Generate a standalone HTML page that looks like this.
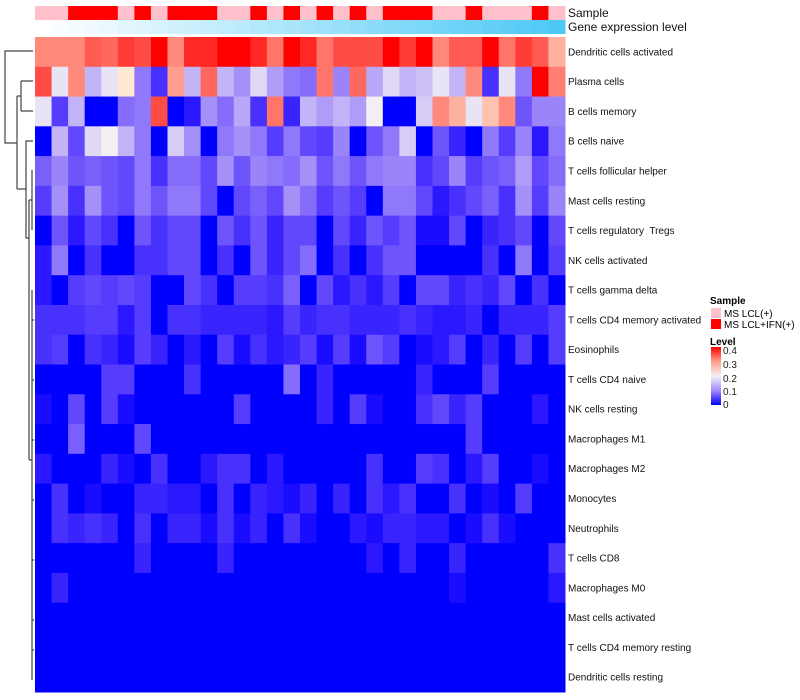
<!DOCTYPE html>
<html><head><meta charset="utf-8"><style>
body{margin:0;background:#fff;font-family:"Liberation Sans",sans-serif}
svg{display:block}
text{white-space:pre}
</style></head><body>
<svg id="chart" width="800" height="700" xmlns="http://www.w3.org/2000/svg">
<g id="dendro" stroke="#444" stroke-width="1.2" fill="none">
<path d="M33,51 H5 V143 H17"/>
<path d="M17,96 V189"/>
<path d="M17,96 H21 M21,81 V111 M21,81 H33 M21,111 H33"/>
<path d="M17,189 H26 V141 H33 M26,189 V238 H29"/>
<path d="M29,200 V460 M29,200 H32 M32,170 V230 M29,460 H32 M32,290 V680 M32,320 H34 M32,380 H34 M32,440 H34 M32,500 H34 M32,560 H34 M32,620 H34 M32,650 H34"/>
</g>
<g id="annot"></g>
<g id="cells"></g>
<g id="labels"></g>
<g id="legend">
<text x="710" y="304" font-size="10" font-weight="bold">Sample</text>
<rect x="711" y="308" width="10" height="10" fill="#ffc0cb"/>
<text x="724" y="317" font-size="10">MS LCL(+)</text>
<rect x="711" y="319" width="10" height="10" fill="#ff0000"/>
<text x="724" y="328" font-size="10">MS LCL+IFN(+)</text>
<text x="710" y="345" font-size="10" font-weight="bold">Level</text>
<defs><linearGradient id="lg" x1="0" y1="1" x2="0" y2="0">
<stop offset="0" stop-color="#0000ff"/><stop offset="0.25" stop-color="#a48aff"/><stop offset="0.5" stop-color="#f2f0f4"/><stop offset="0.75" stop-color="#ffa08a"/><stop offset="1" stop-color="#ff0000"/></linearGradient></defs>
<rect x="711" y="347" width="10" height="58" fill="url(#lg)"/>
<g font-size="10" fill="#222">
<text x="723" y="354">0.4</text><text x="723" y="368">0.3</text><text x="723" y="382">0.2</text><text x="723" y="395">0.1</text><text x="723" y="408">0</text>
</g>
</g>
</svg>
<script>
const rowNames=["Dendritic cells activated","Plasma cells","B cells memory","B cells naive","T cells follicular helper","Mast cells resting","T cells regulatory  Tregs","NK cells activated","T cells gamma delta","T cells CD4 memory activated","Eosinophils","T cells CD4 naive","NK cells resting","Macrophages M1","Macrophages M2","Monocytes","Neutrophils","T cells CD8","Macrophages M0","Mast cells activated","T cells CD4 memory resting","Dendritic cells resting"];
const sampleGroup="PPRRRPRPRRRPPRPRPRPRPRRRPPRPPPRP".split("");
const r1=[0.32,0.32,0.32,0.36,0.35,0.38,0.37,0.4,0.32,0.39,0.39,0.4,0.4,0.39,0.34,0.4,0.39,0.34,0.37,0.37,0.37,0.4,0.38,0.4,0.32,0.36,0.36,0.4,0.34,0.38,0.36,0.28];
const r2=[0.37,0.19,0.32,0.15,0.19,0.21,0.1,0.04,0.3,0.15,0.35,0.15,0.12,0.18,0.13,0.1,0.09,0.34,0.11,0.35,0.14,0.18,0.15,0.16,0.19,0.15,0.32,0.04,0.19,0.1,0.4,0.33];
const r3=[0.19,0.05,0.15,0,0,0.09,0.1,0.37,0,0.02,0.12,0.09,0.14,0.04,0.34,0.03,0.15,0.13,0.15,0.13,0.2,0,0,0.17,0.32,0.28,0.19,0.26,0.32,0.07,0.11,0.11];
const r4=[0,0.15,0.06,0.18,0.2,0.15,0.1,0,0.17,0.12,0,0.1,0.12,0.1,0.05,0.1,0.06,0.05,0.11,0,0.07,0.1,0.17,0,0.07,0.03,0,0.1,0.05,0.11,0.02,0.1];
const r5=[0.08,0.11,0.07,0.08,0.07,0.06,0.1,0.04,0.09,0.09,0.06,0.12,0.07,0.11,0.1,0.09,0.12,0.07,0.1,0.07,0.1,0.11,0.11,0.04,0.06,0.11,0.05,0.07,0.08,0.13,0.06,0.09];
const r6=[0.05,0.12,0.04,0.12,0.07,0.06,0.1,0.07,0.1,0.1,0.06,0,0.06,0.08,0.06,0.12,0.09,0.05,0.07,0.05,0,0.1,0.1,0.06,0.02,0.04,0.06,0.08,0.04,0.12,0.05,0.11];
const r7=[0,0.07,0.02,0.06,0.04,0,0.07,0.04,0.06,0.06,0,0.07,0.04,0.07,0.03,0.06,0.06,0,0.06,0.03,0.07,0.05,0.07,0.01,0.01,0.06,0,0.03,0.04,0.06,0,0.06];
const r8=[0.02,0.1,0,0.04,0,0,0.04,0.04,0.06,0.06,0,0.04,0,0.07,0.03,0.06,0.09,0,0.04,0,0.04,0.07,0.07,0,0,0,0,0.04,0,0.1,0,0.05];
const r9=[0.02,0,0.05,0.06,0.05,0.06,0.05,0,0,0.06,0.04,0,0.05,0.05,0.04,0.08,0,0.06,0.02,0.04,0.02,0.05,0,0.06,0.06,0.03,0.04,0.03,0.06,0,0.04,0];
const r10=[0.04,0.04,0.04,0.05,0.05,0.02,0.05,0,0.04,0.04,0.03,0.03,0.03,0.03,0.02,0.05,0.03,0.04,0.04,0.03,0.03,0.03,0.04,0.03,0.02,0.02,0.03,0,0.03,0.03,0.03,0.05];
const r11=[0.04,0.05,0,0.04,0.03,0.01,0.05,0.03,0,0.02,0,0.05,0.01,0.04,0.02,0.03,0.05,0.01,0.05,0.01,0.07,0.05,0,0.01,0.02,0.05,0,0.03,0,0.05,0,0.05];
const r12=[0,0,0,0,0.05,0.05,0,0,0,0.04,0,0,0,0,0,0.09,0,0.03,0,0,0,0,0,0.03,0,0,0,0.05,0,0,0,0];
const r13=[0.01,0,0.06,0,0.05,0.01,0,0,0,0,0,0,0.05,0,0,0,0,0.03,0,0.05,0.01,0,0,0.04,0.06,0.03,0.05,0,0,0,0.02,0];
const r14=[0,0,0.08,0,0,0,0.06,0,0,0,0,0,0,0,0,0,0,0,0,0,0,0,0,0,0,0,0.05,0,0,0,0,0];
const r15=[0.02,0,0,0,0.03,0.01,0,0.04,0,0,0.02,0.04,0.04,0,0.02,0,0,0,0,0,0.04,0,0,0.05,0.04,0,0.02,0.05,0,0,0.01,0];
const r16=[0,0.04,0,0.01,0,0,0.03,0.03,0.02,0.02,0,0.04,0,0.03,0.02,0.01,0.03,0,0.03,0,0.04,0.02,0.04,0,0,0.04,0,0.01,0,0.05,0,0];
const r17=[0,0.04,0.03,0.04,0.03,0,0.04,0,0.03,0.03,0.01,0.04,0.01,0.03,0,0.04,0.01,0,0,0.02,0.01,0.03,0.03,0.02,0.02,0,0.01,0.04,0.01,0,0,0];
const r18=[0,0,0,0,0,0,0.03,0,0,0,0,0.03,0,0,0,0,0,0,0,0,0.02,0,0.03,0,0,0.03,0,0,0,0,0,0.04];
const r19=[0,0.03,0,0,0,0,0,0,0,0,0,0,0,0,0,0,0,0,0,0,0,0,0,0,0,0.01,0,0,0,0,0,0.02];
const r20=[0,0,0,0,0,0,0,0,0,0,0,0,0,0,0,0,0,0,0,0,0,0,0,0,0,0,0,0,0,0,0,0];
const r21=[0,0,0,0,0,0,0,0,0,0,0,0,0,0,0,0,0,0,0,0,0,0,0,0,0,0,0,0,0,0,0,0];
const r22=[0,0,0,0,0,0,0,0,0,0,0,0,0,0,0,0,0,0,0,0,0,0,0,0,0,0,0,0,0,0,0,0];
const values=[r1,r2,r3,r4,r5,r6,r7,r8,r9,r10,r11,r12,r13,r14,r15,r16,r17,r18,r19,r20,r21,r22];

const NS="http://www.w3.org/2000/svg";
const X0=35,X1=565,Y0=37,Y1=692;
const nCol=sampleGroup.length,nRow=rowNames.length;
const cw=(X1-X0)/nCol,rh=(Y1-Y0)/nRow;
const xPos=i=>X0+i*cw, yPos=j=>Y0+j*rh;
function color(v){
  v=Math.max(0,Math.min(0.4,v));
  if(v<=0.2){const t=v/0.2;const r=Math.round(242*Math.pow(t,0.75)),g=Math.round(240*Math.pow(t,1.0));return `rgb(${r},${g},${Math.round(255-11*t)})`;}
  const t=(v-0.2)/0.2;const gb=Math.round(240*Math.pow(1-t,0.6));return `rgb(255,${gb},${Math.round(gb*0.9)})`;
}
function mk(tag,attrs,parent){const e=document.createElementNS(NS,tag);for(const k in attrs)e.setAttribute(k,attrs[k]);parent.appendChild(e);return e;}
const annot=document.getElementById('annot');
for(let i=0;i<nCol;i++){
  const a=mk('rect',{x:xPos(i),y:6,width:cw+0.5,height:14,fill:sampleGroup[i]==='R'?'#ff0000':'#ffc0cb'},annot);
  
  
  const t=i/(nCol-1);
  const g=mk('rect',{x:xPos(i),y:20,width:cw+0.5,height:14,fill:`rgb(${Math.round(255-178*t)},${Math.round(255-54*t)},${Math.round(255-9*t)})`},annot);
  
  
}
const cells=document.getElementById('cells');
for(let j=0;j<nRow;j++)for(let i=0;i<nCol;i++){
  const c=mk('rect',{x:xPos(i),y:yPos(j),width:cw+0.5,height:rh+0.5,fill:color(values[j][i])},cells);
  
  
}
const labels=document.getElementById('labels');
const t1=mk('text',{x:568,y:17,'font-size':12,fill:'#111'},labels);t1.textContent='Sample';


const t2=mk('text',{x:568,y:31,'font-size':12,fill:'#111'},labels);t2.textContent='Gene expression level';


rowNames.forEach((n,j)=>{
  const t=mk('text',{x:568,y:yPos(j)+rh/2+3.5,'font-size':10,fill:'#111'},labels);
  t.textContent=n;
  
  
});
</script>
</body></html>
